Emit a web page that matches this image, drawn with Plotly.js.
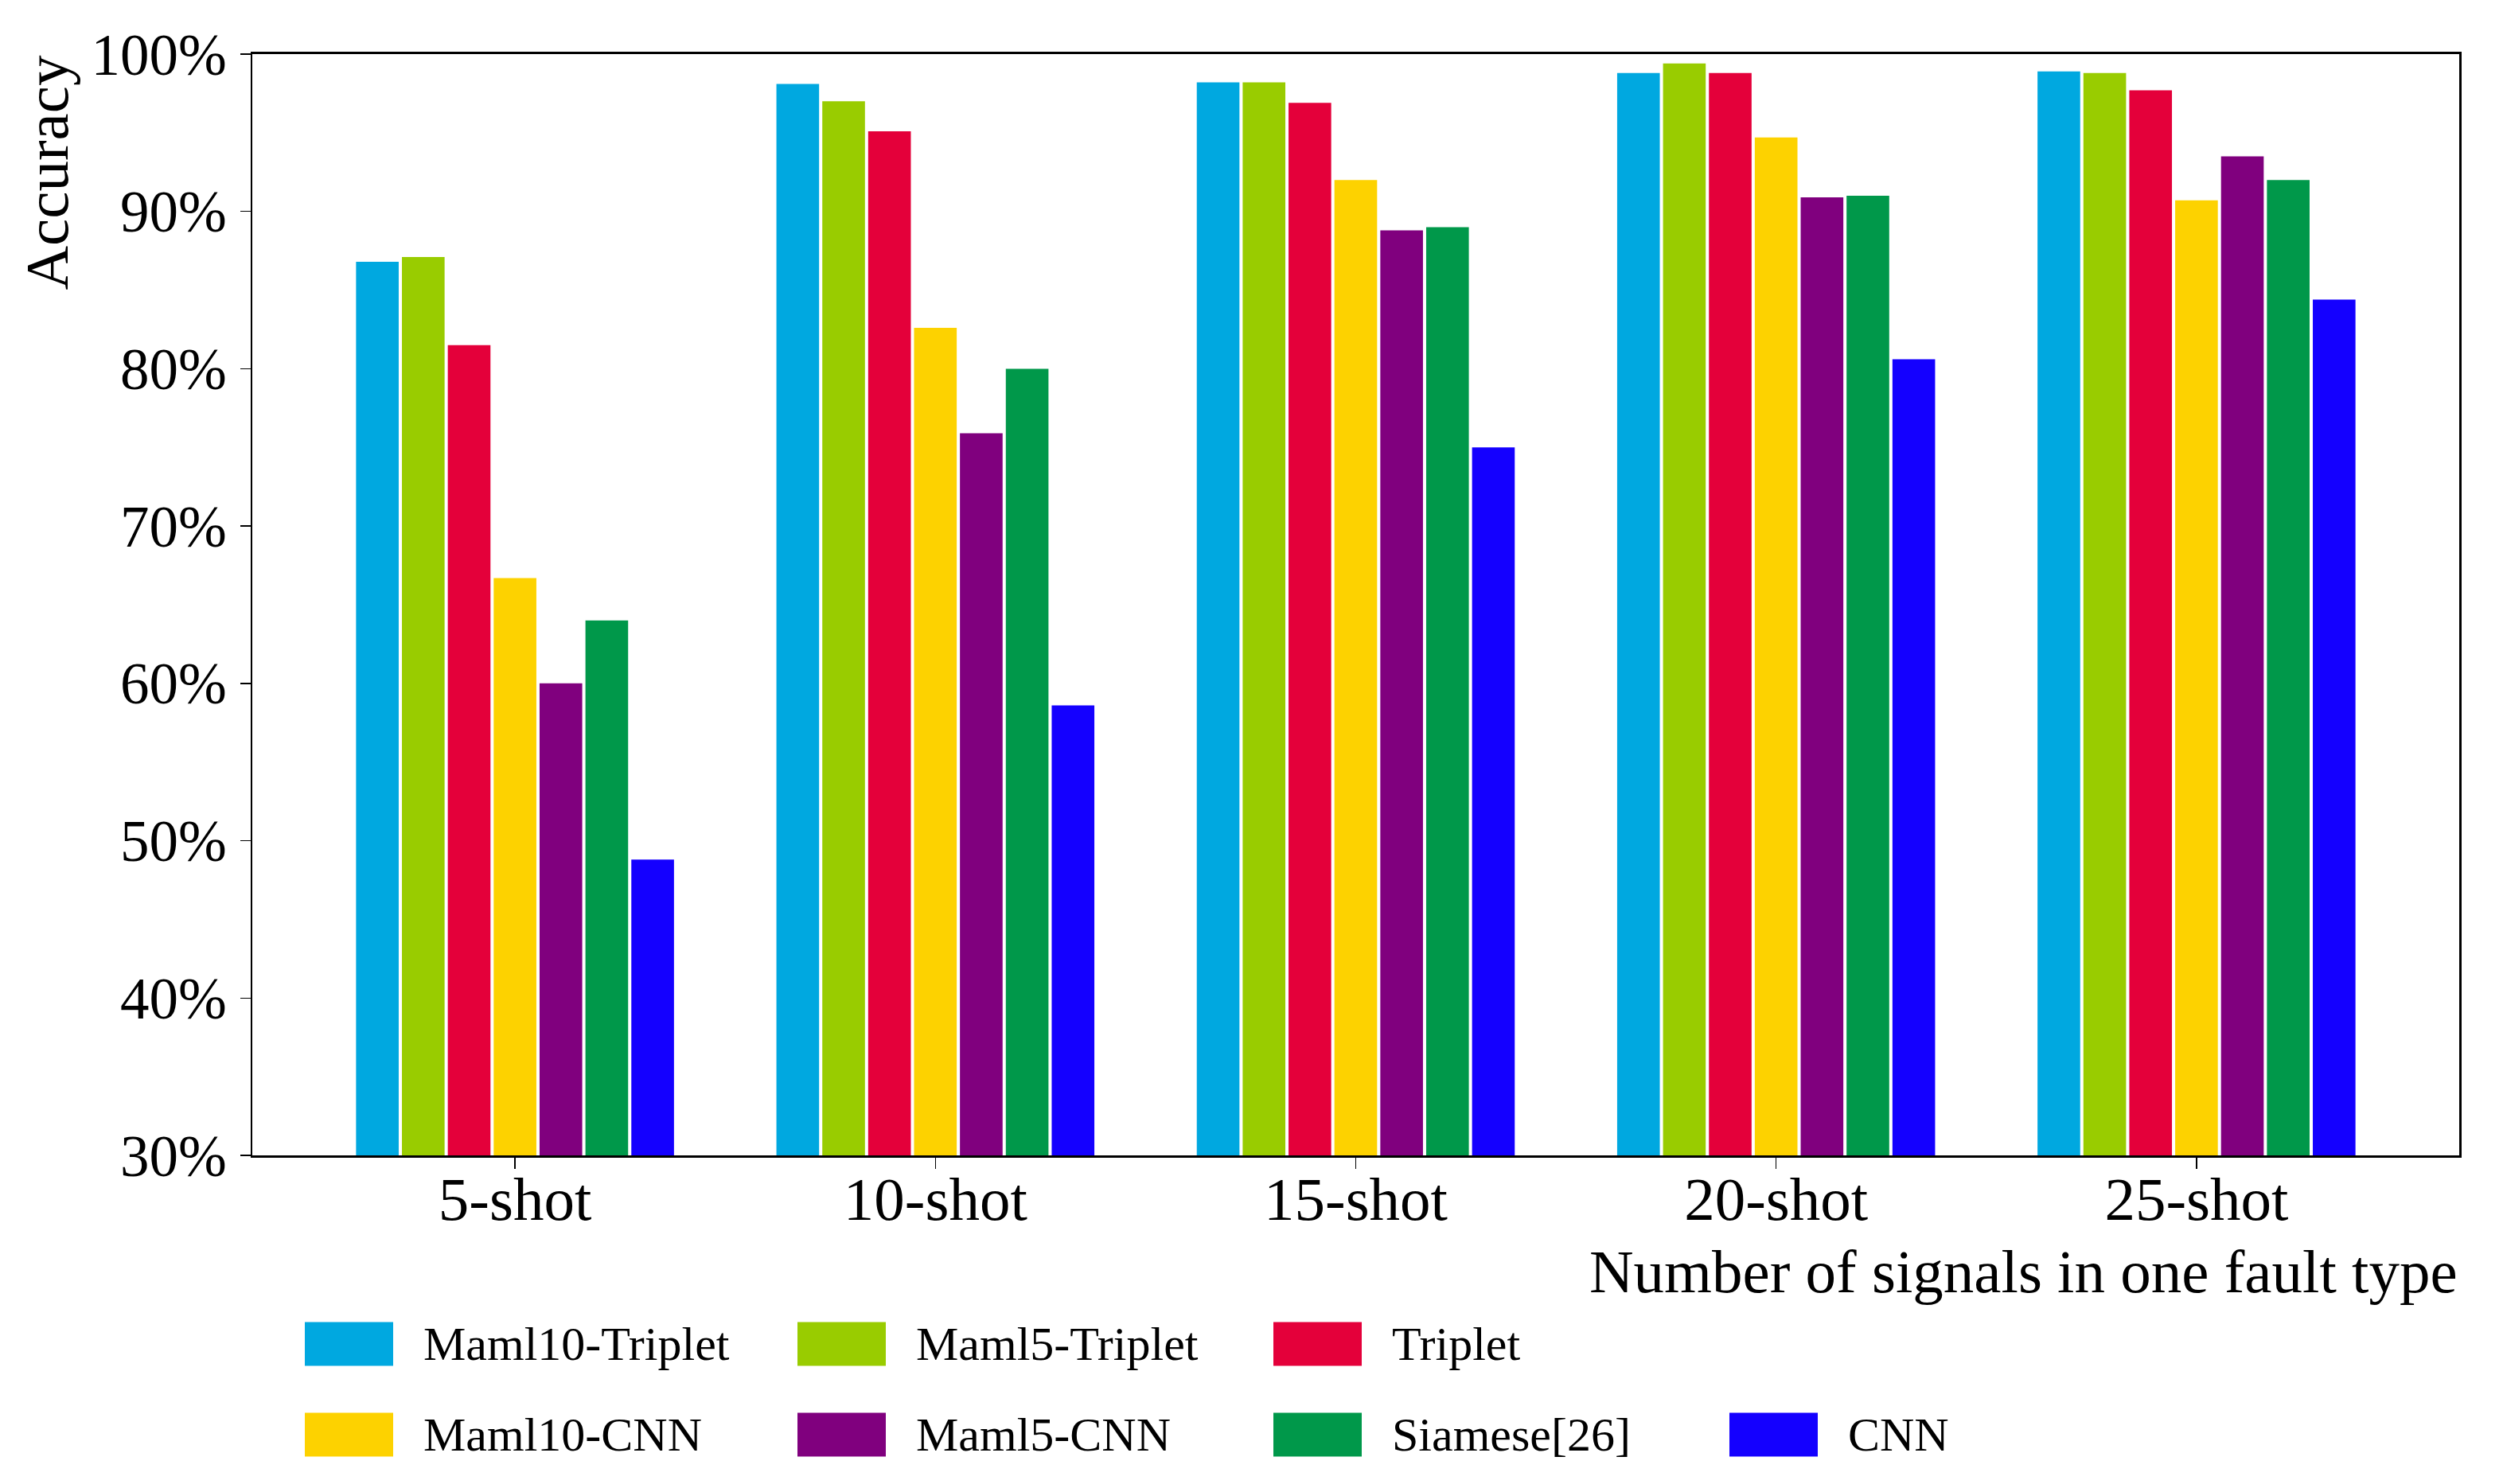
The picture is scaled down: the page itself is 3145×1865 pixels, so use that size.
<!DOCTYPE html>
<html>
<head>
<meta charset="utf-8">
<script src="https://cdn.plot.ly/plotly-3.0.1.min.js"></script>
<style>html,body{margin:0;padding:0;background:#fff;}#chart{width:3145px;height:1865px;}</style>
</head>
<body>
<div id="chart"></div>
<script>
// ---- data ----
const categories = ['5-shot', '10-shot', '15-shot', '20-shot', '25-shot'];
const seriesNames = ['Maml10-Triplet', 'Maml5-Triplet', 'Triplet', 'Maml10-CNN', 'Maml5-CNN', 'Siamese[26]', 'CNN'];
const maml10Triplet = [86.8, 98.1, 98.2, 98.8, 98.9];
const maml5Triplet  = [87.1, 97.0, 98.2, 99.4, 98.8];
const triplet       = [81.5, 95.1, 96.9, 98.8, 97.7];
const maml10CNN     = [66.7, 82.6, 92.0, 94.7, 90.7];
const maml5CNN      = [60.0, 75.9, 88.8, 90.9, 93.5];
const siamese       = [64.0, 80.0, 89.0, 91.0, 92.0];
const cnn           = [48.8, 58.6, 75.0, 80.6, 84.4];
const yTickVals = [30, 40, 50, 60, 70, 80, 90, 100];
const yTickText = ['30%', '40%', '50%', '60%', '70%', '80%', '90%', '100%'];
const xTitle = 'Number of signals in one fault type';
const yTitle = 'Accuracy';

// ---- styles ----
const seriesValues = [maml10Triplet, maml5Triplet, triplet, maml10CNN, maml5CNN, siamese, cnn];
const colors = ['#00A8E0', '#99CC00', '#E4003A', '#FDD200', '#80007E', '#00984A', '#1400FF'];
const FONT = 'Liberation Serif, Times New Roman, serif';

const W = 3145, H = 1865;
const L = 317, R = 3090, T = 68, B = 1452;
const pw = R - L, ph = B - T;
const px2x = p => (p - L) / pw;
const px2y = p => (B - p) / ph;

const traces = seriesNames.map((name, i) => ({
  type: 'bar',
  name: name,
  x: categories,
  y: seriesValues[i],
  marker: { color: colors[i], line: { width: 0 } },
  showlegend: false,
  hoverinfo: 'x+y+name'
}));

// custom legend (swatches + labels) laid out like the reference
const legendCols = [383, 1002, 1600, 2173];
const legendRows = [1689, 1803];
const legendSlots = [[0,0],[0,1],[0,2],[1,0],[1,1],[1,2],[1,3]];
const swW = 111, swH = 55, textOff = 147;
const shapes = [];
const annotations = [];
seriesNames.forEach((name, i) => {
  const [r, c] = legendSlots[i];
  const cx = legendCols[c], cy = legendRows[r];
  shapes.push({
    type: 'rect', xref: 'paper', yref: 'paper',
    x0: px2x(cx), x1: px2x(cx + swW),
    y0: px2y(cy + swH / 2), y1: px2y(cy - swH / 2),
    fillcolor: colors[i], line: { width: 0 }
  });
  annotations.push({
    xref: 'paper', yref: 'paper', x: px2x(cx + textOff), y: px2y(cy),
    xanchor: 'left', yanchor: 'middle', showarrow: false,
    text: name, font: { family: FONT, size: 60, color: '#000' }
  });
});
annotations.push({
  xref: 'paper', yref: 'paper', x: 1, y: px2y(1598),
  xanchor: 'right', yanchor: 'middle', showarrow: false,
  text: xTitle, font: { family: FONT, size: 77, color: '#000' }
});
annotations.push({
  xref: 'paper', yref: 'paper', x: px2x(58), y: 1.0,
  xanchor: 'center', yanchor: 'top', showarrow: false, textangle: -90,
  text: yTitle, font: { family: FONT, size: 77, color: '#000' }
});

const layout = {
  width: W, height: H,
  margin: { l: L, r: W - R, t: T, b: H - B, pad: 0 },
  paper_bgcolor: '#fff', plot_bgcolor: '#fff',
  barmode: 'group', bargap: 0.236, bargroupgap: 0.07,
  font: { family: FONT, size: 77, color: '#000' },
  xaxis: {
    type: 'category', range: [-0.625, 4.625],
    showline: true, linecolor: '#000', linewidth: 3, mirror: true,
    ticks: 'outside', ticklen: 14, tickwidth: 1.5, tickcolor: '#000',
    ticklabelstandoff: -28,
    showgrid: false, zeroline: false,
    tickfont: { family: FONT, size: 77, color: '#000' }
  },
  yaxis: {
    range: [30, 100], tickmode: 'array', tickvals: yTickVals, ticktext: yTickText,
    showline: true, linecolor: '#000', linewidth: 2.5, mirror: true,
    ticks: 'outside', ticklen: 13, tickwidth: 1.5, tickcolor: '#000',
    ticklabelstandoff: 2,
    showgrid: false, zeroline: false,
    tickfont: { family: FONT, size: 73, color: '#000' }
  },
  shapes: shapes,
  annotations: annotations
};

Plotly.newPlot('chart', traces, layout, { displayModeBar: false, staticPlot: true });
</script>
</body>
</html>
